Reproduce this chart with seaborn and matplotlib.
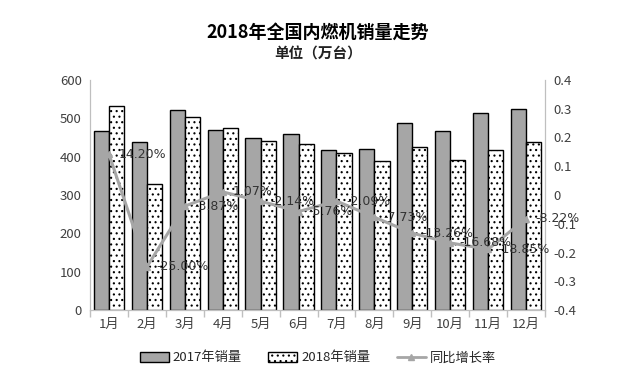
import matplotlib
matplotlib.use("Agg")
import matplotlib.pyplot as plt
import seaborn as sns
import numpy as np
import pandas as pd
from matplotlib.patches import Patch
from matplotlib.lines import Line2D

months = ["1月", "2月", "3月", "4月", "5月", "6月", "7月", "8月", "9月", "10月", "11月", "12月"]
sales_2017 = [467, 437, 522, 470, 450, 459, 418, 421, 488, 468, 515, 524]
sales_2018 = [533, 328, 503, 476, 441, 433, 409, 390, 424, 391, 418, 437]
growth = [0.1420, -0.2500, -0.0387, 0.0107, -0.0214, -0.0576, -0.0209, -0.0773, -0.1326, -0.1668, -0.1885, -0.0822]
growth_labels = ["14.20%", "-25.00%", "-3.87%", "1.07%", "-2.14%", "-5.76%", "-2.09%",
                 "-7.73%", "-13.26%", "-16.68%", "-18.85%", "-8.22%"]

sns.set_style("white")
plt.rcParams['font.family'] = ['Noto Sans CJK SC', 'DejaVu Sans']
plt.rcParams['hatch.linewidth'] = 0.8

df = pd.DataFrame({
    "月份": months * 2,
    "销量": sales_2017 + sales_2018,
    "年份": ["2017年销量"] * 12 + ["2018年销量"] * 12,
})

fig = plt.figure(figsize=(6.36, 3.83), dpi=100)
ax = fig.add_axes([90 / 636, 1 - 310 / 383, 455 / 636, 230 / 383])

sns.barplot(data=df, x="月份", y="销量", hue="年份", ax=ax,
            palette=["#a6a6a6", "white"], width=0.8, edgecolor="black",
            linewidth=1.0, legend=False)
for bar in ax.containers[1]:
    bar.set_hatch("...")

ax.set_ylim(0, 600)
ax.set_yticks(range(0, 601, 100))
ax.set_xlim(-0.5, 11.5)
ax.set_xlabel("")
ax.set_ylabel("")
ax.tick_params(axis="both", labelsize=9.5, colors="#404040", length=0, pad=6)
ax.set_xticks(np.arange(-0.5, 12, 1), minor=True)
ax.tick_params(axis="x", which="minor", bottom=True, length=5, width=1,
               color="#bfbfbf", direction="out")
ax.spines["top"].set_visible(False)
for side in ["left", "right", "bottom"]:
    ax.spines[side].set_color("#bfbfbf")

ax2 = ax.twinx()
x = np.arange(len(months))
ax2.plot(x, growth, color="#a6a6a6", linewidth=2.2, marker="^", markersize=4)
for xi, yi, lab in zip(x, growth, growth_labels):
    ax2.text(xi + 0.25, yi, lab, fontsize=9, color="#333333", va="center", ha="left",
             family=["DejaVu Sans"])
ax2.set_ylim(-0.4, 0.4)
ax2.set_yticks(np.round(np.arange(-0.4, 0.41, 0.1), 1))
ax2.set_yticklabels(["-0.4", "-0.3", "-0.2", "-0.1", "0", "0.1", "0.2", "0.3", "0.4"])
ax2.tick_params(axis="y", labelsize=9.5, colors="#404040", length=0, pad=6)
ax2.spines["top"].set_visible(False)
for side in ["left", "right", "bottom"]:
    ax2.spines[side].set_color("#bfbfbf")

fig.text(0.5, 1 - 32 / 383, "2018年全国内燃机销量走势", ha="center", va="center",
         fontsize=13, fontweight="bold", color="black")
fig.text(0.5, 1 - 54 / 383, "单位（万台）", ha="center", va="center",
         fontsize=10.5, fontweight="bold", color="#222222")

handles = [
    Patch(facecolor="#a6a6a6", edgecolor="black", linewidth=1.0),
    Patch(facecolor="white", edgecolor="black", hatch="...", linewidth=1.0),
    Line2D([0], [0], color="#a6a6a6", linewidth=2, marker="^", markersize=4),
]
fig.legend(handles, ["2017年销量", "2018年销量", "同比增长率"], loc="center",
           bbox_to_anchor=(0.5, 1 - 358 / 383), ncol=3, frameon=False,
           fontsize=9.5, handlelength=2.2, handleheight=0.8, columnspacing=2.0,
           handletextpad=0.3)

fig.savefig("out.png", dpi=100)
